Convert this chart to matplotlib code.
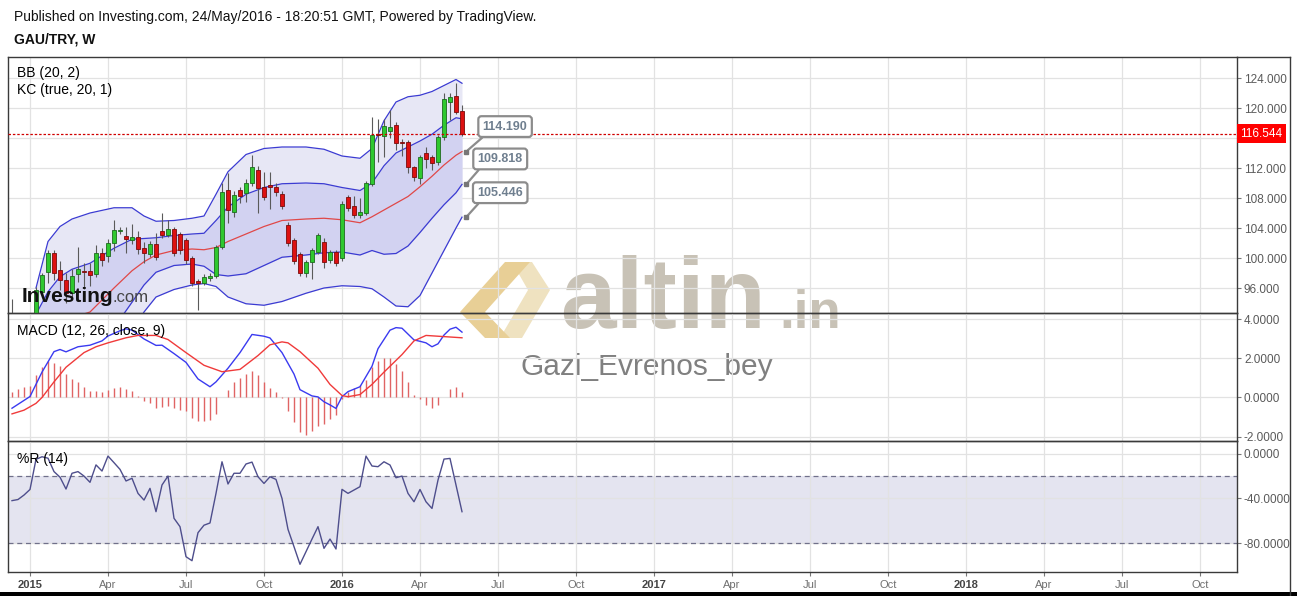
import numpy as np
import pandas as pd
import matplotlib
matplotlib.use("Agg")
import matplotlib.pyplot as plt
from matplotlib.lines import Line2D
from matplotlib.patches import Polygon, Rectangle

plt.rcParams['font.family'] = ['Liberation Sans', 'DejaVu Sans']

W, H = 1297, 596

# weekly bars (Monday); the x axis is the bar index, as on TradingView
first_bar = "2014-12-15"

opens = [92.0, 91.0, 91.6, 91.3, 92.0, 95.5, 98.2, 100.7, 98.4, 97.1,
         95.3, 97.9, 98.3, 98.3, 97.9, 100.7, 100.3, 102.0, 103.6, 102.9,
         102.4, 102.8, 101.3, 100.5, 101.9, 103.6, 103.1, 103.9, 103.2, 102.4,
         100.0, 96.9, 96.7, 97.3, 97.6, 101.5, 109.1, 106.1, 109.1, 108.7,
         110.0, 111.7, 109.5, 109.7, 109.5, 108.5, 104.4, 102.4, 100.5, 98.0,
         99.5, 100.8, 102.1, 99.7, 100.8, 100.0, 108.1, 106.9, 105.7, 106.0,
         109.9, 116.5, 116.3, 117.0, 117.7, 115.5, 115.5, 112.1, 110.7, 114.0,
         113.5, 112.8, 116.1, 120.8, 121.6, 119.6]
highs = [94.6, 92.3, 92.4, 92.5, 96.1, 98.0, 101.1, 101.1, 99.6, 98.0,
         98.5, 101.5, 99.3, 99.3, 101.7, 101.3, 102.5, 105.1, 104.1, 104.2,
         104.6, 103.6, 102.1, 102.3, 103.3, 106.0, 105.1, 104.2, 103.5, 102.7,
         100.3, 97.2, 97.9, 98.0, 101.8, 110.0, 111.3, 108.9, 109.5, 110.5,
         113.7, 112.3, 111.5, 111.5, 110.0, 109.0, 104.8, 102.7, 100.8, 99.8,
         101.4, 103.4, 102.7, 101.1, 101.1, 107.6, 108.4, 108.3, 108.0, 110.3,
         118.8, 118.6, 118.6, 119.7, 118.2, 115.9, 115.8, 112.3, 113.8, 114.8,
         113.8, 116.4, 122.0, 122.0, 123.3, 120.4]
lows = [90.5, 90.2, 90.8, 90.6, 91.5, 95.2, 96.7, 97.1, 95.7, 94.0,
        94.8, 96.8, 95.9, 96.3, 97.5, 98.9, 99.5, 100.9, 103.2, 100.7,
        101.9, 100.5, 99.3, 100.2, 99.8, 102.7, 102.8, 100.3, 100.5, 99.2,
        96.3, 93.1, 96.4, 97.0, 97.3, 101.2, 104.7, 105.5, 107.3, 107.5,
        109.6, 106.0, 107.7, 106.6, 108.3, 106.5, 101.6, 99.2, 97.6, 97.5,
        97.2, 100.5, 98.7, 99.4, 98.9, 99.6, 106.3, 105.4, 105.4, 105.7,
        109.6, 112.8, 113.5, 116.0, 114.4, 113.6, 111.3, 110.3, 109.9, 112.0,
        111.7, 112.4, 115.8, 118.4, 119.2, 116.3]
closes = [91.0, 91.6, 91.3, 92.0, 95.7, 97.7, 100.7, 98.0, 97.1, 95.3,
          97.6, 98.5, 98.2, 97.7, 100.7, 99.7, 102.0, 103.7, 103.8, 102.5,
          102.8, 101.2, 100.7, 101.9, 100.1, 103.1, 103.9, 100.7, 101.1, 99.7,
          96.7, 96.7, 97.5, 97.6, 101.5, 108.8, 106.4, 108.4, 108.3, 110.0,
          112.1, 109.3, 108.1, 109.5, 108.8, 106.9, 102.0, 99.6, 98.0, 99.5,
          101.1, 103.1, 99.5, 100.8, 99.3, 107.2, 106.7, 105.7, 106.1, 110.0,
          116.4, 116.4, 117.6, 117.5, 115.3, 115.4, 112.1, 110.8, 113.5, 113.2,
          112.7, 116.1, 121.2, 121.5, 119.5, 116.544]

# bands read at some bars
band_idx = [4, 6, 8, 10, 13, 17, 20, 22, 24, 27, 30, 32, 34, 36, 39, 42, 45, 49, 52, 55,
            58, 60, 62, 64, 66, 68, 70, 72, 74, 75]
bb_upper = [96.0, 102.2, 104.2, 105.2, 106.0, 106.7, 106.7, 105.6, 104.9, 105.0,
            105.3, 105.6, 108.5, 111.5, 113.8, 114.6, 114.8, 114.8, 114.5, 113.6,
            113.3, 114.6, 118.3, 120.8, 121.5, 121.7, 122.2, 123.0, 123.8, 123.3]
basis = [90.5, 91.0, 91.5, 92.0, 92.8, 96.0, 98.3, 99.5, 100.4, 101.0,
         101.2, 101.1, 101.4, 102.2, 103.2, 104.2, 105.0, 105.2, 105.3, 105.1,
         104.7, 105.5, 106.4, 107.3, 108.2, 109.5, 110.9, 112.4, 113.7, 114.19]
kc_upper = [92.5, 95.5, 97.5, 98.5, 99.3, 101.3, 102.5, 102.6, 102.7, 103.0,
            103.2, 103.3, 105.0, 106.8, 108.5, 109.4, 109.9, 110.0, 109.9, 109.4,
            109.0, 110.0, 112.3, 114.0, 114.8, 115.6, 116.5, 117.7, 118.7, 118.56]
kc_lower = [88.5, 86.5, 85.5, 85.5, 86.3, 90.7, 94.1, 96.4, 98.1, 99.0,
            99.2, 98.9, 97.8, 97.6, 97.9, 99.0, 100.1, 100.4, 100.7, 100.8,
            100.4, 101.0, 100.5, 100.6, 101.6, 103.4, 105.3, 107.1, 108.7, 109.818]
bb_lower = [85.0, 80.0, 79.0, 79.0, 79.6, 85.3, 89.9, 92.8, 94.8, 95.8,
            96.4, 96.6, 96.2, 94.8, 93.9, 93.7, 94.2, 95.3, 96.0, 96.3,
            96.2, 95.9, 94.8, 93.6, 93.5, 95.0, 98.0, 101.0, 104.0, 105.446]

last_price = 116.544
callout_vals = [114.190, 109.818, 105.446]

macd_idx = [0, 3, 5, 7, 8, 9, 11, 13, 15, 16, 18, 19, 20, 22, 24, 25, 27, 29, 31, 33,
            34, 36, 38, 40, 42, 43, 45, 47, 48, 50, 51, 52, 53, 54, 55, 56, 58, 60, 61, 63,
            64, 65, 67, 68, 69, 70, 71, 72, 73, 74, 75]
macd_val = [-0.55, 0.05, 1.3, 2.35, 2.46, 2.34, 2.6, 2.68, 2.9, 3.15,
            3.42, 3.52, 3.45, 3.0, 2.67, 2.68, 2.25, 1.8, 0.95, 0.55,
            0.8, 1.5, 2.3, 3.23, 3.14, 3.05, 2.3, 1.2, 0.4, 0.08,
            0.03, -0.22, -0.38, -0.56, 0.04, 0.3, 0.55, 1.6, 2.5, 3.45,
            3.58, 3.55, 2.95, 2.88, 2.8, 2.6, 2.75, 3.2, 3.5, 3.6, 3.35]
signal_idx = [0, 2, 4, 5, 7, 9, 12, 14, 16, 19, 21, 24, 26, 29, 32, 35, 38, 41, 43, 45,
              46, 48, 51, 53, 55, 56, 58, 60, 62, 65, 67, 69, 71, 75]
signal_val = [-0.84, -0.65, -0.3, 0.0, 0.8, 1.55, 2.3, 2.6, 2.8, 3.06,
              3.18, 3.18, 2.97, 2.3, 1.65, 1.32, 1.44, 2.15, 2.7, 2.85,
              2.8, 2.35, 1.5, 0.67, 0.1, 0.04, 0.15, 0.67, 1.3, 2.2,
              2.9, 3.18, 3.14, 3.06]
hist = [0.27, 0.44, 0.56, 0.6, 1.15, 1.57, 1.86, 1.78, 1.6, 1.21,
        0.97, 0.8, 0.53, 0.32, 0.32, 0.27, 0.38, 0.5, 0.56, 0.44,
        0.32, 0.07, -0.19, -0.27, -0.56, -0.5, -0.45, -0.56, -0.62, -0.7,
        -1.04, -1.18, -1.18, -1.13, -0.84, 0.02, 0.38, 0.8, 1.01, 1.2,
        1.35, 1.15, 0.8, 0.5, 0.27, -0.05, -0.7, -1.28, -1.76, -1.9,
        -1.73, -1.45, -1.35, -1.09, -0.92, -0.08, 0.26, 0.48, 0.63, 0.91,
        1.56, 1.86, 2.03, 2.0, 1.73, 1.38, 0.79, 0.15, -0.08, -0.39,
        -0.55, -0.39, 0.05, 0.43, 0.55, 0.29]

willr = [-42, -41, -37, -32, -5, -2.7, -4, -16, -21, -31.6,
         -17.5, -16, -20, -25.6, -10, -15.5, -2.1, -8, -14, -24.4,
         -22, -35.5, -41.5, -31, -51.9, -28, -20, -57.8, -65.3, -92.2,
         -95.8, -70.7, -64, -62, -35.5, -7.2, -27.1, -17.5, -17.5, -9.2,
         -7.5, -20.6, -26.6, -20.6, -23, -40, -67.7, -83.2, -99, -87.7,
         -76.4, -65.3, -84.7, -76.4, -85.3, -31.9, -35.5, -32.5, -29.5, -2.1,
         -11, -11.6, -7.2, -10.1, -21.5, -20, -35.5, -43, -32, -43,
         -49, -23.6, -4.8, -4.2, -28, -51.9]


def fx(px):
    return px / W


def fy(py):
    return 1 - py / H


fig = plt.figure(figsize=(W / 100, H / 100), dpi=100)
fig.patch.set_facecolor('white')

L, R = 8, 1237
XMIN, XMAX = -0.667, 204.17


def add_panel(top, bottom):
    ax = fig.add_axes([fx(L), fy(bottom), (R - L) / W, (bottom - top) / H])
    ax.set_facecolor('none')
    ax.set_xlim(XMIN, XMAX)
    for s in ax.spines.values():
        s.set_color('#3a3a3a')
        s.set_linewidth(1)
    ax.yaxis.tick_right()
    ax.tick_params(axis='y', length=3, width=0.8, color='#777777', pad=2,
                   labelsize=8.5, labelcolor='#5a5a5a')
    ax.grid(True, color='#e2e2e2', lw=0.9)
    ax.set_axisbelow(True)
    return ax


ax1 = add_panel(57, 313)
ax2 = add_panel(313, 441)
ax3 = add_panel(441, 572)

# x ticks: first bar of each quarter
bar_dates = pd.date_range(first_bar, periods=210, freq='W-MON')
tick_pos, tick_lab, tick_year = [], [], []
prev = bar_dates[0].month
for i, d in enumerate(bar_dates):
    if d.month != prev and d.month in (1, 4, 7, 10) and i <= XMAX:
        tick_pos.append(i)
        tick_lab.append(str(d.year) if d.month == 1 else d.strftime('%b'))
        tick_year.append(d.month == 1)
    prev = d.month

for ax in (ax1, ax2):
    ax.set_xticks(tick_pos)
    ax.tick_params(axis='x', length=0, labelbottom=False)
ax3.set_xticks(tick_pos)
ax3.set_xticklabels(tick_lab)
ax3.tick_params(axis='x', length=3, width=0.8, color='#777777', pad=3,
                labelsize=8, labelcolor='#707070')
for lab, yr in zip(ax3.get_xticklabels(), tick_year):
    if yr:
        lab.set_fontweight('bold')
        lab.set_color('#444444')

# ---- price panel
o = np.array(opens)
h = np.array(highs)
lo = np.array(lows)
c = np.array(closes)
x = np.arange(len(o))
up = c >= o
ax1.fill_between(band_idx, bb_upper, bb_lower, color='#e7e7f5', lw=0, zorder=1)
ax1.fill_between(band_idx, kc_upper, kc_lower, color='#d2d2f1', lw=0, zorder=1.2)
for band in (bb_upper, kc_upper, kc_lower, bb_lower):
    ax1.plot(band_idx, band, color='#3b3bd2', lw=0.9, zorder=2)
ax1.plot(band_idx, basis, color='#e04848', lw=0.9, zorder=2)

ax1.vlines(x, lo, h, color='#5a5a5a', lw=0.8, zorder=3)
body_lo = np.minimum(o, c)
body_h = np.maximum(np.abs(c - o), 0.12)
ax1.bar(x[up], body_h[up], bottom=body_lo[up], width=0.62, color='#2fc82f',
        edgecolor='#1e6a1e', lw=0.6, zorder=4)
ax1.bar(x[~up], body_h[~up], bottom=body_lo[~up], width=0.62, color='#dd1111',
        edgecolor='#7a0b0b', lw=0.6, zorder=4)

ax1.axhline(last_price, color='#d00000', lw=0.9, ls=(0, (2, 1.5)), zorder=5)
ax1.text(1.0028, last_price, f'{last_price:.3f}', transform=ax1.get_yaxis_transform(),
         ha='left', va='center', color='white', fontsize=8.5, zorder=8, clip_on=False,
         bbox=dict(boxstyle='square,pad=0.3', fc='#ff0000', ec='none'))

ax1.set_ylim(92.667, 126.8)
yt = np.arange(96, 125, 4)
ax1.set_yticks(yt)
ax1.set_yticklabels(['' if v == 116 else f'{v:.3f}' for v in yt])

offsets = [(28, 18), (24.5, 18.3), (24.5, 17.6)]
for val, off in zip(callout_vals, offsets):
    ax1.annotate(f'{val:.3f}', xy=(75.7, val), xytext=off, textcoords='offset points',
                 ha='center', va='center', fontsize=9, fontweight='bold', color='#6f7f8f',
                 bbox=dict(boxstyle='round,pad=0.35,rounding_size=0.25', fc='white',
                           ec='#8c8c8c', lw=1.6),
                 arrowprops=dict(arrowstyle='-', color='#8c8c8c', lw=1.6, shrinkA=0,
                                 shrinkB=1.5, relpos=(0.12, 0.0)),
                 annotation_clip=False, zorder=7)
    ax1.plot(75.7, val, 's', ms=2.5, color='#777777', zorder=7, clip_on=False)

# ---- MACD panel
ax2.vlines(x, 0, hist, color='#e06464', lw=1.0, zorder=2)
ax2.plot(macd_idx, macd_val, color='#3a3af0', lw=1, zorder=3)
ax2.plot(signal_idx, signal_val, color='#f03a3a', lw=1, zorder=3)
ax2.set_ylim(-2.23, 4.33)
ax2.set_yticks([-2, 0, 2, 4])
ax2.set_yticklabels([f'{v:.4f}' for v in [-2, 0, 2, 4]])

# ---- Williams %R panel
ax3.axhspan(-80, -20, color='#e4e4f0', lw=0, zorder=0.5)
for lvl in (-20, -80):
    ax3.axhline(lvl, color='#70708a', lw=0.9, ls=(0, (4, 3)), zorder=1)
ax3.plot(x, willr, color='#4e4e8c', lw=1, zorder=3)
ax3.set_ylim(-105.9, 11.4)
ax3.set_yticks([-80, -40, 0])
ax3.set_yticklabels([f'{v:.4f}' for v in [-80, -40, 0]])

# ---- panel titles and header
fig.text(fx(14), fy(17), 'Published on Investing.com, 24/May/2016 - 18:20:51 GMT, Powered by TradingView.',
         fontsize=10, va='center', color='#111111')
fig.text(fx(14), fy(40), 'GAU/TRY, W', fontsize=10, fontweight='bold', va='center', color='#111111')
fig.text(fx(17), fy(72.5), 'BB (20, 2)', fontsize=10, va='center', zorder=6)
fig.text(fx(17), fy(90), 'KC (true, 20, 1)', fontsize=10, va='center', zorder=6)
fig.text(fx(17), fy(330.5), 'MACD (12, 26, close, 9)', fontsize=10, va='center', zorder=6)
fig.text(fx(17), fy(459), '%R (14)', fontsize=10, va='center', zorder=6)

# Investing.com logo
fig.text(fx(22), fy(302), 'Investing', fontsize=15, fontweight='bold', color='#111111',
         va='baseline', zorder=6)
fig.text(fx(113), fy(302), '.com', fontsize=12, color='#444444', va='baseline', zorder=6)

# watermark (under the axes)
fig.text(fx(560), fy(328), 'altin', fontsize=72, fontweight='bold', color='#c8c2b6',
         va='baseline', zorder=-1)
fig.text(fx(779), fy(328), '.in', fontsize=38, fontweight='bold', color='#c8c2b6',
         va='baseline', zorder=-1)
fig.text(fx(521), fy(375), 'Gazi_Evrenos_bey', fontsize=21.5, color='#808080',
         va='baseline', zorder=-1)
chev = [(460, 312), (505, 262), (530, 262), (485, 312), (510, 338), (485, 338)]
diam = [(512, 262), (532, 262), (550, 290), (522, 338), (500, 338), (528, 290)]
for pts, col in ((diam, '#efe2c0'), (chev, '#e8cf96')):
    fig.patches.append(Polygon([(fx(a), fy(b)) for a, b in pts], closed=True,
                               transform=fig.transFigure, fc=col, ec='none', zorder=-1))

# outer frame
fig.add_artist(Line2D([fx(R), fx(1290)], [fy(57), fy(57)], color='#3a3a3a', lw=1))
fig.add_artist(Line2D([fx(1290), fx(1290)], [fy(57), fy(596)], color='#3a3a3a', lw=1))
fig.patches.append(Rectangle((0, 0), 1, 4 / H, transform=fig.transFigure,
                             fc='black', ec='none'))

fig.savefig('out.png', dpi=100)
